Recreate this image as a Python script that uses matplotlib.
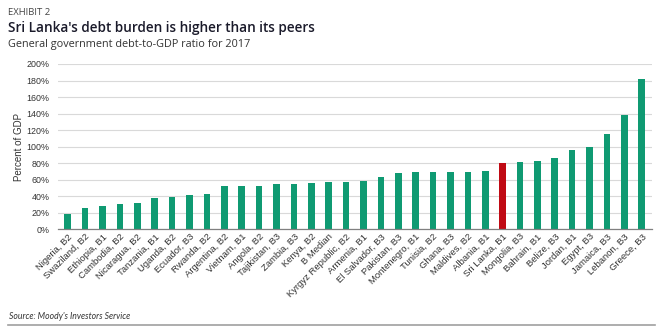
import numpy as np
import matplotlib.pyplot as plt
from matplotlib.lines import Line2D

countries = ["Nigeria, B2", "Swaziland, B2", "Ethiopia, B1", "Cambodia, B2", "Nicaragua, B2",
             "Tanzania, B1", "Uganda, B2", "Ecuador, B3", "Rwanda, B2", "Argentina, B2",
             "Vietnam, B1", "Angola, B2", "Tajikistan, B3", "Zambia, B3", "Kenya, B2",
             "B Median", "Kyrgyz Republic, B2", "Armenia, B1", "El Salvador, B3", "Pakistan, B3",
             "Montenegro, B1", "Tunisia, B2", "Ghana, B3", "Maldives, B2", "Albania, B1",
             "Sri Lanka, B1", "Mongolia, B3", "Bahrain, B1", "Belize, B3", "Jordan, B1",
             "Egypt, B3", "Jamaica, B3", "Lebanon, B3", "Greece, B3"]
debt_pct = [18.5, 25.4, 28.6, 30.2, 31.8,
            37.5, 39.0, 41.0, 42.7, 52.0,
            52.0, 52.4, 54.4, 54.4, 56.4,
            56.8, 56.8, 58.4, 63.6, 68.0,
            69.7, 69.7, 69.7, 69.7, 70.5,
            79.8, 81.0, 82.6, 85.8, 95.9,
            99.9, 115.0, 138.6, 181.7]
highlight = "Sri Lanka, B1"
yticks = list(range(0, 201, 20))

green = "#0f9a72"
red = "#c00a14"
colors = [red if c == highlight else green for c in countries]

fig = plt.figure(figsize=(6.6, 3.26), dpi=100)
ax = fig.add_axes([0.0879, 0.2966, 0.8995, 0.5071])

x = np.arange(len(countries))
ax.bar(x, debt_pct, width=0.38, color=colors, zorder=3)

ax.set_xlim(-0.56, len(countries) - 0.43)
ax.set_ylim(0, 200)
ax.set_yticks(yticks)
ax.set_yticklabels([f"{v}%" for v in yticks], fontsize=6.4, color="#333333",
                   family="Liberation Sans")
ax.yaxis.grid(True, color="#d9d9d9", linewidth=0.8, zorder=0)
ax.tick_params(axis="y", length=0, pad=6)
ax.tick_params(axis="x", length=0, pad=2)
ax.set_xticks(x)
ax.set_xticklabels(countries, rotation=45, ha="right", va="top", rotation_mode="anchor",
                   fontsize=6.8, color="#333333", family="Liberation Sans")

for s in ["top", "right", "left"]:
    ax.spines[s].set_visible(False)
ax.spines["bottom"].set_color("#808080")
ax.spines["bottom"].set_linewidth(0.9)
ax.spines["bottom"].set_zorder(4)

ax.set_ylabel("Percent of GDP", fontsize=7.0, color="#333333", family="Liberation Sans")
ax.yaxis.set_label_coords(-0.057, 0.5)

fig.text(0.012, 0.962, "EXHIBIT 2", fontsize=6.8, color="#444444", family="Open Sans",
         va="center")
fig.text(0.012, 0.913, "Sri Lanka's debt burden is higher than its peers", fontsize=9.8,
         color="#1a1a2a", family="Open Sans", weight="semibold", va="center")
fig.text(0.012, 0.862, "General government debt-to-GDP ratio for 2017", fontsize=7.8,
         color="#333333", family="Open Sans", va="center")
fig.text(0.014, 0.03, "Source: Moody's Investors Service", fontsize=6.2, style="italic",
         color="#333333", family="Lato", va="center")
fig.add_artist(Line2D([0.012, 0.993], [0.003, 0.003], color="#a0a0a0", linewidth=1.2,
                      transform=fig.transFigure))

fig.savefig("out.png", dpi=100)
plt.close(fig)
